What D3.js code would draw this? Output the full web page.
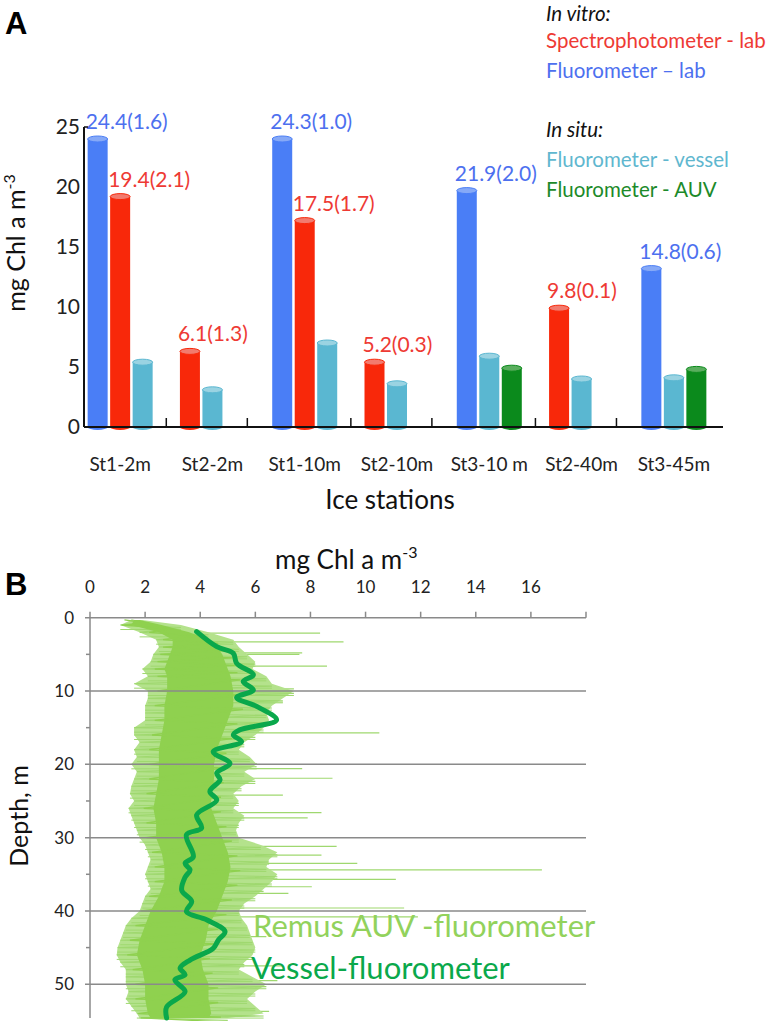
<!DOCTYPE html>
<html><head><meta charset="utf-8">
<script src="https://cdn.jsdelivr.net/npm/d3@7"></script>
<style>
body{margin:0;background:#fff;}
svg{display:block;font-family:Lato,"Open Sans",sans-serif;}
</style></head>
<body><svg id="c" width="774" height="1021"></svg>
<script>
// ---------- Panel A data ----------
const categories = ["St1-2m","St2-2m","St1-10m","St2-10m","St3-10 m","St2-40m","St3-45m"];
const fluoroLab    = [24.0, null, 24.0, null, 19.7, null, 13.2];
const spectroLab   = [19.2, 6.3, 17.2, 5.4, null, 9.9, null];
const fluoroVessel = [5.4, 3.1, 7.0, 3.6, 5.9, 4.0, 4.1];
const fluoroAUV    = [null, null, null, null, 4.9, null, 4.8];
const fluoroLabText   = ["24.4(1.6)", null, "24.3(1.0)", null, "21.9(2.0)", null, "14.8(0.6)"];
const spectroLabText  = ["19.4(2.1)", "6.1(1.3)", "17.5(1.7)", "5.2(0.3)", null, "9.8(0.1)", null];
const yTicksA = [0,5,10,15,20,25];

// ---------- Panel B data ----------
const xTicksB = [0,2,4,6,8,10,12,14,16];
const yTicksB = [0,10,20,30,40,50];
const vesselDepth = [1.9,3.95,4.86,6.2,7.8,8.7,9.86,10.9,12.1,13.95,15.3,16.0,16.9,18.3,19.9,21.2,22.1,23.7,24.9,26.9,28.7,29.6,32.6,33.5,34.4,35.4,37.2,38.7,40.1,41.2,42.8,43.96,45.1,46.7,47.8,48.7,49.4,51.0,53.1,54.6];
const vesselChl   = [3.87,4.6,5.2,5.32,5.93,5.56,5.93,5.32,6.05,6.77,5.44,5.2,5.5,4.47,5.08,4.6,4.72,4.35,4.6,3.87,4.05,3.5,3.75,3.45,3.63,3.45,3.33,3.69,3.5,4.23,4.9,4.66,4.47,3.63,3.27,3.45,3.08,3.45,2.78,2.78];

const auvDepth = [0.3,1,2,3,4,5,6,7,8,9,10,11,12,13,14,15,16,17,18,19,20,21,22,23,24,25,26,27,28,29,30,31,32,33,34,35,36,37,38,39,40,41,42,43,44,45,46,47,48,49,50,51,52,53,54,54.6];
const auvLo = [1.5,1.1,1.8,2.4,2.5,2.3,2.2,1.9,2.1,1.6,2.1,2.1,2.0,2.0,2.0,1.6,1.6,1.8,1.6,1.7,1.5,1.7,1.6,1.5,1.45,1.6,1.4,1.5,1.6,1.7,1.8,2.0,2.1,2.2,2.1,2.0,2.1,2.2,2.0,1.9,1.8,1.5,1.3,1.2,1.1,1.0,0.97,1.1,1.3,1.3,1.3,1.4,1.3,1.5,1.7,1.8];
const auvHi = [1.9,3.3,4.3,5.2,5.4,5.7,6.0,5.9,6.4,6.6,7.4,7.0,6.6,6.4,6.5,6.3,6.0,5.6,5.4,5.8,6.05,5.6,6.0,5.5,5.2,5.4,5.2,5.6,5.4,5.3,5.4,6.2,6.8,6.5,6.4,6.8,6.6,6.3,6.0,5.6,5.4,5.5,5.7,5.8,5.9,6.0,5.9,5.6,5.4,5.9,6.4,6.0,5.7,6.0,6.3,5.0];
const coreDepth = [0.3,1,2,3,4,5,6,7,8,10,12,14,16,18,20,22,24,26,28,30,32,34,36,38,40,42,44,46,48,50,52,54,54.6];
const coreLo = [1.6,1.5,2.5,3.0,3.0,2.9,2.8,2.7,2.8,2.8,2.7,2.7,2.6,2.5,2.5,2.5,2.4,2.3,2.4,2.4,2.6,2.7,2.7,2.5,2.2,2.0,1.8,1.7,1.9,2.0,2.0,2.1,2.2];
const coreHi = [1.8,2.6,3.6,4.3,4.6,4.8,4.9,5.0,5.1,5.2,5.2,5.0,4.8,4.6,4.5,4.5,4.4,4.4,4.6,4.8,5.0,5.1,5.0,4.8,4.6,4.3,4.2,4.0,4.1,4.3,4.3,4.4,4.3];
const spikeDepth = [2.1,3.3,4.8,5.0,6.6,9.7,11.5,15.7,19.9,20.6,21.9,24.2,26.6,27.3,31.2,32.4,33.5,34.4,35.7,36.7,37.6,39.6,40.8,43.5,47.5,49.5,53.7];
const spikeChl   = [8.35,9.2,7.7,7.6,8.6,7.4,7.0,10.5,6.05,7.7,8.8,7.0,8.4,7.9,8.95,8.4,9.7,16.4,11.1,8.05,7.2,11.4,11.9,6.4,7.0,6.8,6.5];

const svg = d3.select("#c");

// ================= Panel A =================
const colBlue="#4a7ef6", colRed="#f8280a", colCyan="#5ab7d1", colGreen="#0b8a1c";
const topBlue="#86a9f7", topRed="#f27b6e", topCyan="#9ad3e2", topGreen="#5aae5e";
const series = [
  {vals:fluoroLab, fill:colBlue, top:topBlue, text:fluoroLabText, tcol:"#4d70ef"},
  {vals:spectroLab, fill:colRed, top:topRed, text:spectroLabText, tcol:"#ee3a34"},
  {vals:fluoroVessel, fill:colCyan, top:topCyan},
  {vals:fluoroAUV, fill:colGreen, top:topGreen}
];
const xA = d3.scaleBand().domain(categories).range([74,720]).padding(0);
const yA = d3.scaleLinear().domain([0,25]).range([427,127]);
const barW = 20, slot = 22.5;

const gA = svg.append("g");
const bars = [];
categories.forEach((c,i)=>{
  let k=0;
  series.forEach(s=>{
    const v = s.vals[i];
    if(v==null) return;
    const cx = xA(c)+xA.bandwidth()/2 + (k-1)*slot;
    bars.push({cat:c,i,v,cx,s});
    k++;
  });
});
const bg = gA.selectAll("g.bar").data(bars).join("g");
bg.append("ellipse").attr("cx",d=>d.cx).attr("cy",yA(0)).attr("rx",barW/2).attr("ry",3).attr("fill",d=>d.s.fill);
bg.append("rect").attr("x",d=>d.cx-barW/2).attr("width",barW)
  .attr("y",d=>yA(d.v)).attr("height",d=>yA(0)-yA(d.v)).attr("fill",d=>d.s.fill);
bg.append("ellipse").attr("cx",d=>d.cx).attr("cy",d=>yA(d.v)).attr("rx",barW/2).attr("ry",3)
  .attr("fill",d=>d.s.top).attr("stroke",d=>d.s.fill).attr("stroke-width",1);
gA.selectAll("text.val").data(bars.filter(d=>d.s.text && d.s.text[d.i])).join("text")
  .attr("x",d=>d.cx-barW/2-2).attr("y",d=>yA(d.v)-10)
  .attr("fill",d=>d.s.tcol).attr("font-size",21).text(d=>d.s.text[d.i]);

gA.append("line").attr("x1",84).attr("x2",84).attr("y1",yA(25)).attr("y2",yA(0)).attr("stroke","#111").attr("stroke-width",2);
gA.append("line").attr("x1",84).attr("x2",723).attr("y1",yA(0)).attr("y2",yA(0)).attr("stroke","#111").attr("stroke-width",2.2);
gA.append("line").attr("x1",84).attr("x2",88).attr("y1",yA(25)).attr("y2",yA(25)).attr("stroke","#111").attr("stroke-width",1.5);
gA.selectAll("text.yt").data(yTicksA).join("text").attr("x",80).attr("y",d=>yA(d)+7)
  .attr("text-anchor","end").attr("font-size",21).attr("fill","#222").text(d=>d);
const groupExt = categories.map((c,i)=>{
  const b = bars.filter(d=>d.i===i);
  return [d3.min(b,d=>d.cx-barW/2), d3.max(b,d=>d.cx+barW/2)];
});
const seps = d3.range(categories.length-1).map(i=>(groupExt[i][1]+groupExt[i+1][0])/2);
gA.selectAll("line.sep").data(seps).join("line").attr("x1",d=>d).attr("x2",d=>d)
  .attr("y1",yA(0)-9).attr("y2",yA(0)).attr("stroke","#111").attr("stroke-width",1.5);
gA.selectAll("text.cat").data(categories).join("text")
  .attr("x",d=>xA(d)+xA.bandwidth()/2).attr("y",471).attr("text-anchor","middle")
  .attr("font-size",19).attr("fill","#222").text(d=>d);
gA.append("text").attr("x",390).attr("y",509).attr("text-anchor","middle").attr("font-size",26).attr("fill","#111").text("Ice stations");
const yl = gA.append("text").attr("transform","translate(25,243) rotate(-90)").attr("text-anchor","middle")
  .attr("font-size",25).attr("fill","#111");
yl.append("tspan").text("mg Chl a m");
yl.append("tspan").attr("dy",-10).attr("font-size",16).text("-3");
gA.append("text").attr("x",5).attr("y",34).attr("font-family","'Liberation Sans',Arial,sans-serif").attr("font-weight","bold").attr("font-size",31).text("A");

const leg = [
  {t:"In vitro:", c:"#111", it:true, y:21},
  {t:"Spectrophotometer - lab", c:"#ee3a34", y:48},
  {t:"Fluorometer \u2013 lab", c:"#4d70ef", y:78},
  {t:"In situ:", c:"#111", it:true, y:137},
  {t:"Fluorometer - vessel", c:"#5fb7cf", y:167},
  {t:"Fluorometer - AUV", c:"#1c8a2a", y:197}
];
gA.selectAll("text.leg").data(leg).join("text").attr("x",546).attr("y",d=>d.y)
  .attr("font-size",20.5).attr("font-style",d=>d.it?"italic":"normal").attr("fill",d=>d.c).text(d=>d.t);

// ================= Panel B =================
const xB = d3.scaleLinear().domain([0,18]).range([90,586]);
const yB = d3.scaleLinear().domain([0,55]).range([617.7,1020.9]);
const gB = svg.append("g");
const auvCol="#8fd14f", auvLight="#b4e28c", auvFringe="#9fd86f", vesCol="#0aa84b";

gB.selectAll("line.sp").data(spikeDepth).join("line")
  .attr("x1",xB(3.5)).attr("x2",(d,i)=>xB(spikeChl[i])).attr("y1",d=>yB(d)).attr("y2",d=>yB(d))
  .attr("stroke",auvFringe).attr("stroke-width",1.2);
gB.append("path").datum(auvDepth).attr("d",d3.area().y(d=>yB(d)).x0((d,i)=>xB(auvLo[i])).x1((d,i)=>xB(auvHi[i])))
  .attr("fill",auvLight);
const zz = [];
auvDepth.forEach((d,i)=>{ zz.push([auvLo[i],d,0]); zz.push([auvHi[i],d,1]); });
gB.append("path").attr("d",d3.line().x(p=>xB(p[0])).y(p=>yB(p[1]) + (p[2]?2.4:0))(zz))
  .attr("fill","none").attr("stroke",auvFringe).attr("stroke-width",1.1);
gB.selectAll("line.hl").data(auvDepth).join("line")
  .attr("x1",(d,i)=>xB(auvLo[i])).attr("x2",(d,i)=>xB(auvHi[i]))
  .attr("y1",d=>yB(d)+4.5).attr("y2",d=>yB(d)+4.5).attr("stroke",auvFringe).attr("stroke-width",1);
gB.append("path").datum(coreDepth).attr("d",d3.area().y(d=>yB(d)).x0((d,i)=>xB(coreLo[i])).x1((d,i)=>xB(coreHi[i])))
  .attr("fill",auvCol);
const cz = [];
coreDepth.forEach((d,i)=>{ cz.push([coreLo[i]-0.35,d,0]); cz.push([coreHi[i]+0.35,d,1]); });
gB.append("path").attr("d",d3.line().x(p=>xB(p[0])).y(p=>yB(p[1]) + (p[2]?3.6:0))(cz))
  .attr("fill","none").attr("stroke",auvCol).attr("stroke-width",1.3);

const grid="#8a8a8a";
gB.selectAll("line.gr").data(yTicksB.filter(d=>d>0)).join("line")
  .attr("x1",xB(0)-5).attr("x2",xB(18)).attr("y1",d=>yB(d)).attr("y2",d=>yB(d)).attr("stroke",grid).attr("stroke-width",1.5);
gB.append("line").attr("x1",xB(0)-5).attr("x2",xB(18)).attr("y1",yB(0)).attr("y2",yB(0)).attr("stroke",grid).attr("stroke-width",1.5);
gB.append("line").attr("x1",xB(0)).attr("x2",xB(0)).attr("y1",yB(0)).attr("y2",yB(54.6)).attr("stroke",grid).attr("stroke-width",1.5);
gB.selectAll("line.xt").data(d3.range(0,19,2)).join("line")
  .attr("x1",d=>xB(d)).attr("x2",d=>xB(d)).attr("y1",yB(0)-6).attr("y2",yB(0)).attr("stroke",grid).attr("stroke-width",1.5);
gB.selectAll("line.ym").data([5,15,25,35,45]).join("line")
  .attr("x1",xB(0)-4).attr("x2",xB(0)).attr("y1",d=>yB(d)).attr("y2",d=>yB(d)).attr("stroke",grid).attr("stroke-width",1.5);
gB.selectAll("text.xt").data(xTicksB).join("text").attr("x",d=>xB(d)).attr("y",593)
  .attr("text-anchor","middle").attr("font-size",17).attr("fill","#222").text(d=>d);
gB.selectAll("text.yt").data(yTicksB).join("text").attr("x",74).attr("y",d=>yB(d)+6)
  .attr("text-anchor","end").attr("font-size",17).attr("fill","#222").text(d=>d);
const xt = gB.append("text").attr("x",275).attr("y",569).attr("font-size",26).attr("fill","#111");
xt.append("tspan").text("mg Chl a m");
xt.append("tspan").attr("dy",-11).attr("font-size",16).text("-3");
gB.append("text").attr("transform","translate(28,816) rotate(-90)").attr("text-anchor","middle")
  .attr("font-size",25).attr("fill","#111").text("Depth, m");
gB.append("text").attr("x",5).attr("y",595).attr("font-family","'Liberation Sans',Arial,sans-serif").attr("font-weight","bold").attr("font-size",31).text("B");

gB.append("path").datum(vesselDepth)
  .attr("d",d3.line().curve(d3.curveCatmullRom).y(d=>yB(d)).x((d,i)=>xB(vesselChl[i])))
  .attr("fill","none").attr("stroke",vesCol).attr("stroke-width",5).attr("stroke-linecap","round");

gB.append("text").attr("x",253).attr("y",937).attr("font-size",31).attr("fill","#92d25c").text("Remus AUV -fluorometer");
gB.append("text").attr("x",251).attr("y",979).attr("font-size",31).attr("fill",vesCol).text("Vessel-fluorometer");
</script></body></html>
